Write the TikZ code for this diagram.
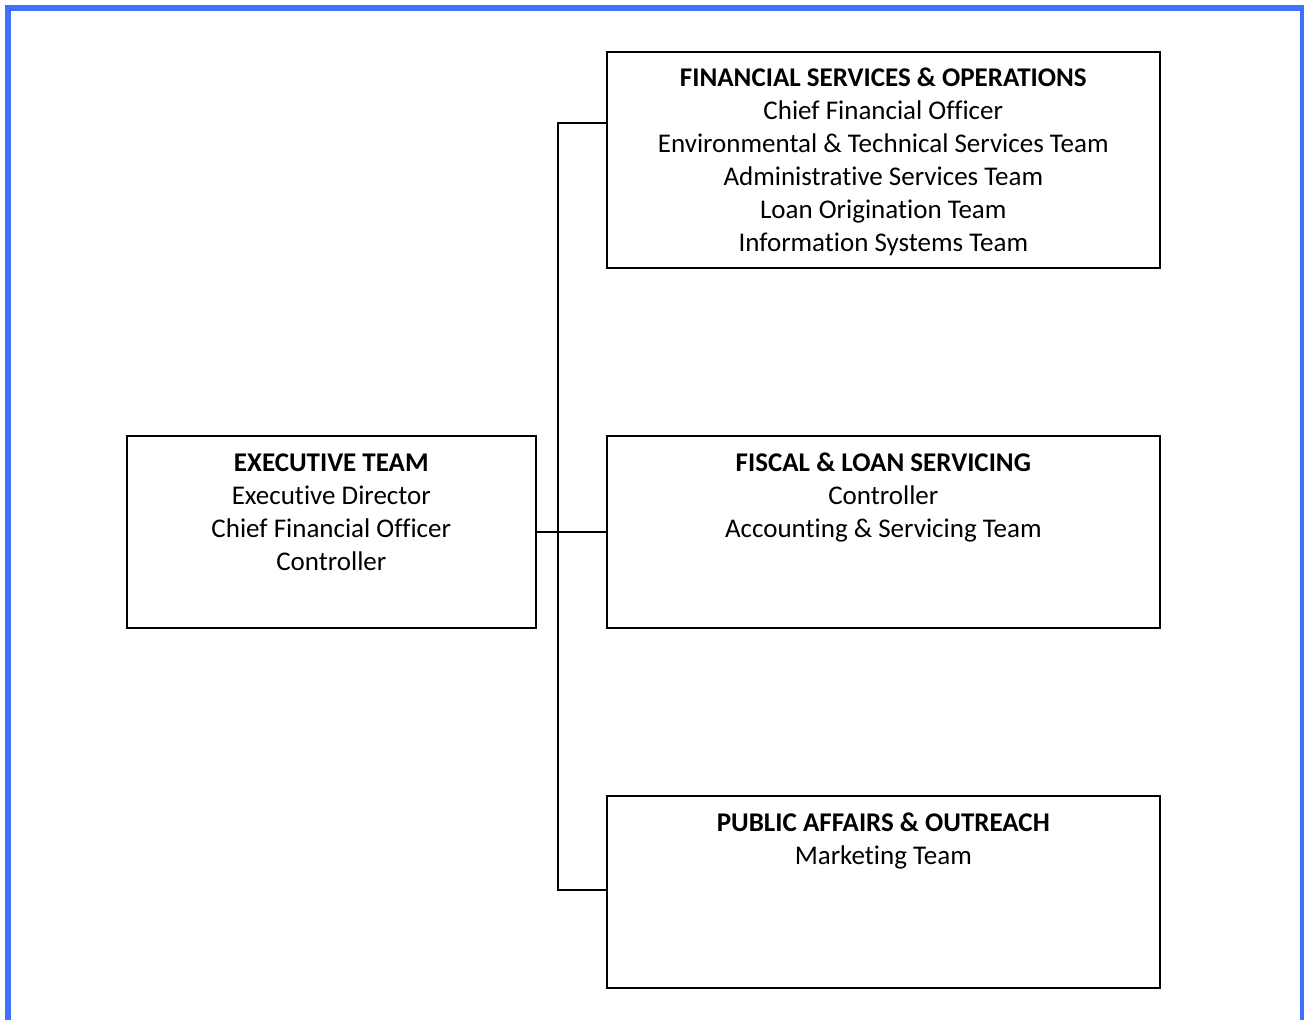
\documentclass[tikz,border=0pt]{standalone}
\usepackage{fontspec}
\setmainfont[Ligatures={NoCommon}]{Carlito}
\definecolor{frameblue}{RGB}{64,112,255}
\tikzset{
  orgbox/.style={draw=black, line width=1.2pt, rectangle, inner sep=0pt, fill=none},
  orgtext/.style={anchor=base, inner sep=0pt, font=\fontsize{20.25}{24.75}\selectfont},
  link/.style={draw=black, line width=1.1pt}
}
\newcommand{\boxtext}[2]{\begin{tabular}[t]{@{}c@{}}\textbf{#1}\\#2\end{tabular}}
\begin{document}
\begin{tikzpicture}[x=0.75pt,y=-0.75pt]
\useasboundingbox (0,0) rectangle (1304,1020);
\draw[frameblue, line width=4.6pt] (8,8) rectangle (1303.5,1030);
% boxes
\node[orgbox, minimum width=553*0.75pt, minimum height=216*0.75pt, anchor=north west] (fso) at (606,51) {};
\node[orgbox, minimum width=553*0.75pt, minimum height=192*0.75pt, anchor=north west] (fls) at (606,435) {};
\node[orgbox, minimum width=553*0.75pt, minimum height=192*0.75pt, anchor=north west] (pao) at (606,795) {};
\node[orgbox, minimum width=409*0.75pt, minimum height=192*0.75pt, anchor=north west] (exe) at (126,435) {};
% texts
\node[orgtext] (fsot) at ([yshift=-36*0.75pt]fso.north) {\boxtext{FINANCIAL SERVICES \& OPERATIONS}{Chief Financial Officer\\Environmental \& Technical Services Team\\Administrative Services Team\\Loan Origination Team\\Information Systems Team}};
\node[orgtext] (flst) at ([yshift=-36*0.75pt]fls.north) {\boxtext{FISCAL \& LOAN SERVICING}{Controller\\Accounting \& Servicing Team}};
\node[orgtext] (paot) at ([yshift=-36*0.75pt]pao.north) {\boxtext{PUBLIC AFFAIRS \& OUTREACH}{Marketing Team}};
\node[orgtext] (exet) at ([yshift=-36*0.75pt]exe.north) {\boxtext{EXECUTIVE TEAM}{Executive Director\\Chief Financial Officer\\Controller}};
% connectors
\draw[link] (exe.east) -- (fls.west);
\draw[link] (fso.west |- 0,123) -- (558,123) -- (558,890) -- (pao.west |- 0,890);
\end{tikzpicture}
\end{document}
